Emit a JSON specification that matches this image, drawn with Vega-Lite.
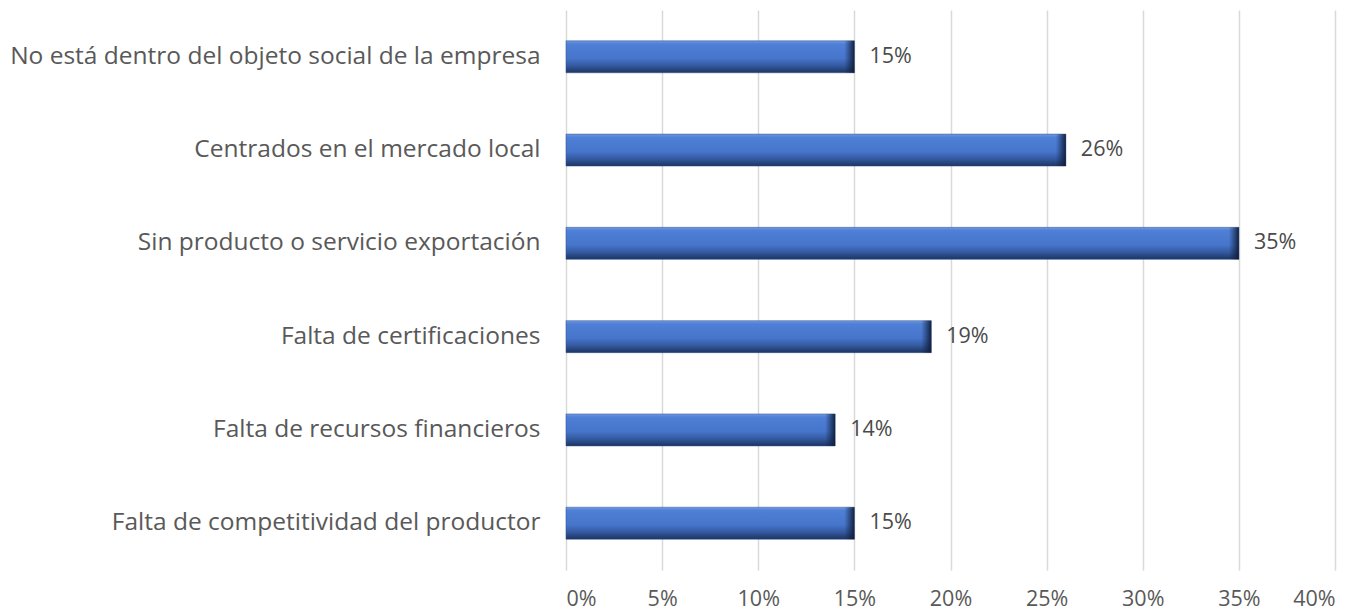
{
  "$schema": "https://vega.github.io/schema/vega-lite/v6.json",
  "width": 769,
  "height": 560,
  "autosize": {"type": "none"},
  "padding": {"left": 566, "top": 10, "right": 24, "bottom": 42},
  "background": "white",
  "config": {"view": {"stroke": null}, "font": "Open Sans"},
  "data": {
    "values": [
      {"motivo": "No está dentro del objeto social de la empresa", "valor": 0.15, "etiqueta": "15%"},
      {"motivo": "Centrados en el mercado local", "valor": 0.26, "etiqueta": "26%"},
      {"motivo": "Sin producto o servicio exportación\u00a0", "valor": 0.35, "etiqueta": "35%"},
      {"motivo": "Falta de certificaciones", "valor": 0.19, "etiqueta": "19%"},
      {"motivo": "Falta de recursos financieros", "valor": 0.14, "etiqueta": "14%"},
      {"motivo": "Falta de competitividad del productor", "valor": 0.15, "etiqueta": "15%"}
    ]
  },
  "encoding": {
    "y": {
      "field": "motivo",
      "type": "nominal",
      "sort": null,
      "scale": {"paddingInner": 0.657, "paddingOuter": 0.33},
      "axis": {
        "title": null,
        "domain": false,
        "ticks": false,
        "labelPadding": 26,
        "labelFontSize": 24.5,
        "labelColor": "#595959",
        "labelLimit": 700
      }
    },
    "x": {
      "field": "valor",
      "type": "quantitative",
      "scale": {"domain": [0, 0.4], "nice": false},
      "axis": {
        "title": null,
        "format": ".0%",
        "values": [0, 0.05, 0.1, 0.15, 0.2, 0.25, 0.3, 0.35, 0.4],
        "domain": false,
        "ticks": false,
        "grid": true,
        "gridColor": "#d9d9d9",
        "gridWidth": 1.5,
        "labelPadding": 18,
        "labelFontSize": 21.5,
        "labelColor": "#595959"
      }
    }
  },
  "layer": [
    {
      "mark": {
        "type": "bar",
        "stroke": "#2f528f",
        "strokeWidth": 0.5,
        "color": {
          "gradient": "linear",
          "x1": 0, "y1": 0, "x2": 0, "y2": 1,
          "stops": [
            {"offset": 0, "color": "#7199e0"},
            {"offset": 0.1, "color": "#4f7fd6"},
            {"offset": 0.55, "color": "#4675cb"},
            {"offset": 0.78, "color": "#34599f"},
            {"offset": 1, "color": "#1c3461"}
          ]
        }
      }
    },
    {
      "mark": {
        "type": "bar",
        "xOffset": -10,
        "color": {
          "gradient": "linear",
          "x1": 0, "y1": 0, "x2": 1, "y2": 0,
          "stops": [
            {"offset": 0, "color": "rgba(20,35,70,0)"},
            {"offset": 1, "color": "rgba(15,28,55,0.95)"}
          ]
        }
      },
      "encoding": {"x2": {"field": "valor"}}
    },
    {
      "mark": {"type": "text", "align": "left", "baseline": "middle", "dx": 15, "fontSize": 21.5, "color": "#4a4a4a"},
      "encoding": {"text": {"field": "etiqueta"}}
    }
  ]
}
